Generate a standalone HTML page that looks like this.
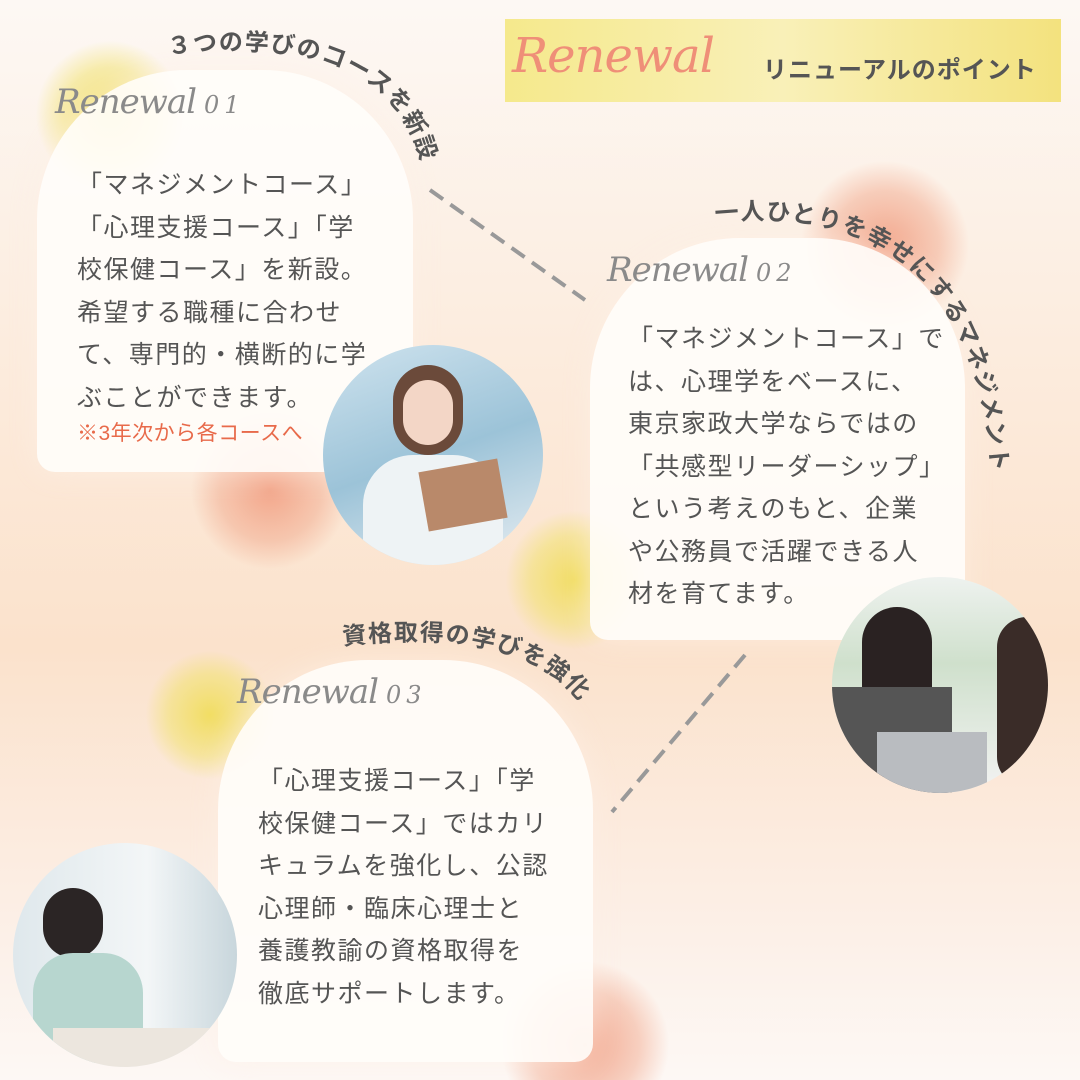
<!DOCTYPE html>
<html><head><meta charset="utf-8"><style>
body{margin:0}
#c{position:relative;width:1080px;height:1080px;overflow:hidden;font-family:"Liberation Sans","Noto Sans CJK JP",sans-serif;
background:linear-gradient(180deg,#fdf8f4 0%,#fcebdc 35%,#fbe2cc 60%,#fcefe6 85%,#fdf8f5 100%)}
.blob{position:absolute;border-radius:50%}
.y{background:radial-gradient(circle,rgba(240,220,80,.85) 0%,rgba(240,225,100,.5) 45%,rgba(240,225,100,0) 70%)}
.p{background:radial-gradient(circle,rgba(240,150,120,.8) 0%,rgba(240,160,130,.45) 45%,rgba(240,160,130,0) 70%)}
.card{position:absolute;background:rgba(255,253,250,.92);border-radius:150px 150px 18px 18px;box-shadow:0 0 30px rgba(255,240,230,.6)}
.txt{position:absolute;color:#555;font-size:25px;line-height:42.5px;letter-spacing:1.5px}
.ren{position:absolute;font-family:"DejaVu Serif",serif;font-style:italic;color:#8a8a8a;font-size:34px;letter-spacing:-1px}
.ren small{font-size:24px;letter-spacing:5px;margin-left:8px}
.ph{position:absolute;border-radius:50%;overflow:hidden}
</style></head><body><div id="c">
<div class="blob y" style="left:35px;top:40px;width:150px;height:150px"></div>
<div class="blob p" style="left:190px;top:410px;width:160px;height:160px"></div>
<div class="blob p" style="left:800px;top:160px;width:170px;height:170px"></div>
<div class="blob y" style="left:505px;top:510px;width:140px;height:140px"></div>
<div class="blob y" style="left:145px;top:650px;width:130px;height:130px"></div>
<div class="blob p" style="left:500px;top:960px;width:170px;height:170px"></div>

<div style="position:absolute;left:505px;top:19px;width:556px;height:83px;background:linear-gradient(90deg,#f5e98c,#f9f0b8 50%,#f3e27e)"></div>
<div style="position:absolute;left:512px;top:28px;font-family:'DejaVu Serif',serif;font-style:italic;font-size:48px;color:#ef8f78;letter-spacing:-1px">Renewal</div>
<div style="position:absolute;left:763px;top:50px;font-size:24px;font-weight:bold;color:#555;letter-spacing:1px">リニューアルのポイント</div>

<div class="card" style="left:37px;top:70px;width:376px;height:402px"></div>
<div class="card" style="left:590px;top:238px;width:375px;height:402px"></div>
<div class="card" style="left:218px;top:660px;width:375px;height:402px"></div>

<div class="ren" style="left:55px;top:82px">Renewal<small>01</small></div>
<div class="ren" style="left:607px;top:250px">Renewal<small>02</small></div>
<div class="ren" style="left:237px;top:672px">Renewal<small>03</small></div>

<div class="txt" style="left:77px;top:164px;width:300px">「マネジメントコース」<br>「心理支援コース」「学<br>校保健コース」を新設。<br>希望する職種に合わせ<br>て、専門的・横断的に学<br>ぶことができます。</div>
<div style="position:absolute;left:77px;top:417px;color:#e86a4a;font-size:21px;letter-spacing:0.5px">※3年次から各コースへ</div>
<div class="txt" style="left:628px;top:318px;width:320px">「マネジメントコース」で<br>は、心理学をベースに、<br>東京家政大学ならではの<br>「共感型リーダーシップ」<br>という考えのもと、企業<br>や公務員で活躍できる人<br>材を育てます。</div>
<div class="txt" style="left:258px;top:760px;width:300px">「心理支援コース」「学<br>校保健コース」ではカリ<br>キュラムを強化し、公認<br>心理師・臨床心理士と<br>養護教諭の資格取得を<br>徹底サポートします。</div>

<div class="ph" style="left:323px;top:345px;width:220px;height:220px;background:linear-gradient(160deg,#cfe3ee,#9cc3d8 50%,#e8eef2)">
<div style="position:absolute;left:70px;top:20px;width:70px;height:90px;border-radius:40px;background:#6b4a3a"></div>
<div style="position:absolute;left:80px;top:35px;width:50px;height:65px;border-radius:25px;background:#f3d6c6"></div>
<div style="position:absolute;left:40px;top:110px;width:140px;height:130px;border-radius:50px 50px 0 0;background:#eef3f5"></div>
<div style="position:absolute;left:100px;top:120px;width:80px;height:60px;background:#b9896a;transform:rotate(-10deg)"></div></div>
<div class="ph" style="left:832px;top:577px;width:216px;height:216px;background:linear-gradient(180deg,#eef2ef,#cfe0cc 40%,#f3f3f3)">
<div style="position:absolute;left:30px;top:30px;width:70px;height:170px;border-radius:35px 35px 0 0;background:#2a2222"></div>
<div style="position:absolute;left:0;top:110px;width:120px;height:110px;background:#555"></div>
<div style="position:absolute;left:45px;top:155px;width:110px;height:70px;background:#b9bcc0"></div>
<div style="position:absolute;left:165px;top:40px;width:60px;height:170px;background:#3a2c28;border-radius:30px"></div></div>
<div class="ph" style="left:13px;top:843px;width:224px;height:224px;background:linear-gradient(90deg,#dfe8ec,#f3f6f7 60%,#c8d6dc)">
<div style="position:absolute;left:30px;top:45px;width:60px;height:70px;border-radius:30px;background:#2b2525"></div>
<div style="position:absolute;left:20px;top:110px;width:110px;height:110px;border-radius:40px 40px 0 0;background:#b7d6cf"></div>
<div style="position:absolute;left:40px;top:185px;width:180px;height:40px;background:#ece6de"></div></div>

<svg style="position:absolute;left:0;top:0" width="1080" height="1080">
<g stroke="#999" stroke-width="4" stroke-dasharray="16 9" fill="none">
<line x1="430" y1="190" x2="585" y2="300"/><line x1="745" y1="655" x2="612" y2="812"/></g>
<defs>
<path id="a1" d="M168 55 Q400 25 425 180"/>
<path id="a2" d="M715 222 Q975 195 992 480"/>
<path id="a3" d="M343 645 Q560 620 600 740"/>
</defs>
<g font-family="Liberation Sans,Noto Sans CJK JP,sans-serif" font-weight="bold" font-size="24" fill="#555" letter-spacing="1.5">
<text><textPath href="#a1">３つの学びのコースを新設</textPath></text>
<text><textPath href="#a2">一人ひとりを幸せにするマネジメント</textPath></text>
<text><textPath href="#a3">資格取得の学びを強化</textPath></text>
</g></svg>
</div></body></html>
